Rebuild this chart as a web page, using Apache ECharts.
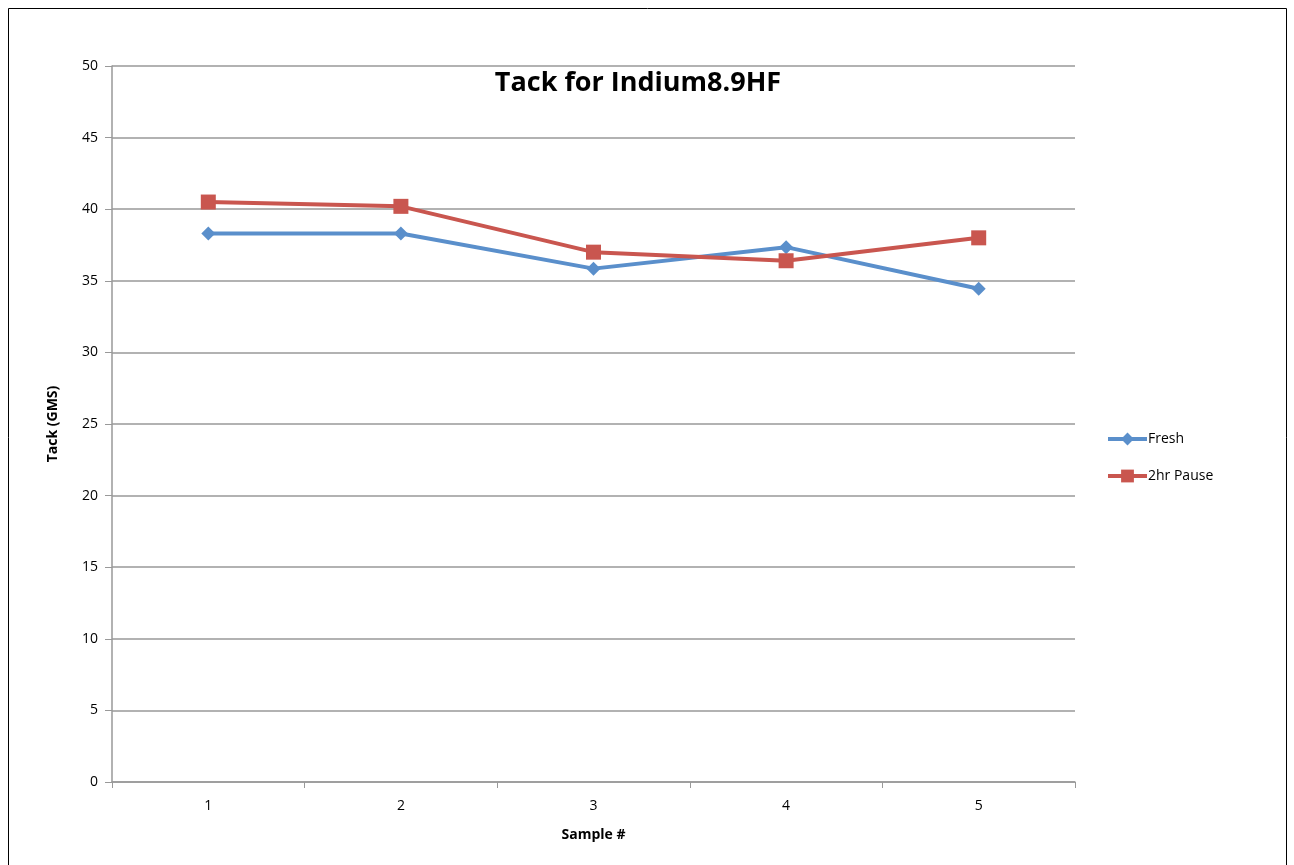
<!DOCTYPE html>
<html><head><meta charset="utf-8">
<script src="https://cdn.jsdelivr.net/npm/echarts@6/dist/echarts.min.js"></script>
<style>html,body{margin:0;padding:0;background:#fff}#c{width:1294px;height:865px}</style>
</head><body><div id="c"></div>
<script>
const categories = ['1','2','3','4','5'];
const fresh = [38.3, 38.3, 35.85, 37.35, 34.45];
const pause2hr = [40.5, 40.2, 37.0, 36.4, 38.0];
const yTicks = [0,5,10,15,20,25,30,35,40,45,50];

const chart = echarts.init(document.getElementById('c'));
const font = '"Open Sans", "Liberation Sans", sans-serif';
chart.setOption({
  animation: false,
  backgroundColor: '#fff',
  textStyle: { fontFamily: font },
  graphic: [{ type: 'rect', shape: { x: 8.5, y: 8.5, width: 1278, height: 870 }, style: { fill: 'none', stroke: '#000', lineWidth: 1 }, silent: true }],
  title: { text: 'Tack for Indium8.9HF', left: 633, top: 65, textAlign: 'center',
    textStyle: { fontFamily: font, fontWeight: 'bold', fontSize: 27, color: '#000' } },
  legend: { orient: 'vertical', left: 1101, top: 427, itemGap: 23, itemWidth: 39, itemHeight: 16,
    lineStyle: { width: 4 },
    textStyle: { fontFamily: font, fontSize: 14, color: '#000', padding: [0,0,0,-4] },
    data: ['Fresh', '2hr Pause'] },
  grid: { left: 112, right: 219, top: 66, bottom: 83, containLabel: false },
  xAxis: { type: 'category', data: categories, boundaryGap: true,
    name: 'Sample #', nameLocation: 'middle', nameGap: 46,
    nameTextStyle: { fontFamily: font, fontWeight: 'bold', fontSize: 14, color: '#000' },
    axisLine: { lineStyle: { color: '#999', width: 1.5 } },
    axisTick: { show: true, length: 6, alignWithLabel: false, lineStyle: { color: '#999' } },
    axisLabel: { color: '#000', fontSize: 14, margin: 17, fontFamily: font } },
  yAxis: { type: 'value', min: 0, max: 50, interval: 5,
    name: 'Tack (GMS)', nameLocation: 'middle', nameGap: 52, nameRotate: 90,
    nameTextStyle: { fontFamily: font, fontWeight: 'bold', fontSize: 14, color: '#000' },
    axisLine: { show: true, lineStyle: { color: '#999', width: 1.5 } },
    axisTick: { show: true, length: 7, inside: false, lineStyle: { color: '#999' } },
    splitLine: { lineStyle: { color: '#999', width: 1.5 } },
    axisLabel: { color: '#000', fontSize: 14, margin: 14, fontFamily: font,
      formatter: v => yTicks.includes(v) ? String(v) : '' } },
  series: [
    { name: 'Fresh', type: 'line', data: fresh, symbol: 'diamond', symbolSize: 14,
      lineStyle: { color: '#5A8FCB', width: 4 }, itemStyle: { color: '#5A8FCB' } },
    { name: '2hr Pause', type: 'line', data: pause2hr, symbol: 'rect', symbolSize: 15,
      lineStyle: { color: '#C9564F', width: 4 }, itemStyle: { color: '#C9564F' } }
  ]
});
</script></body></html>
